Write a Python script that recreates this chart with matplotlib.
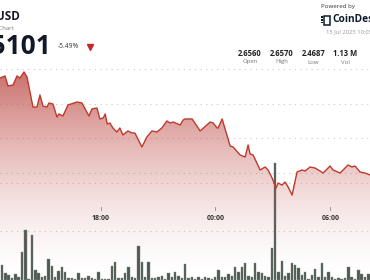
import numpy as np
import matplotlib
matplotlib.use("Agg")
import matplotlib.pyplot as plt
from matplotlib.patches import Rectangle

plt.rcParams['font.family'] = ['Open Sans', 'DejaVu Sans']

W, H = 370, 280

# volume per bar slot (thousands), one value per bar
volume = [15, 7, 5, 2, 6, 3, 29, 52, 1, 46, 10, 7, 3, 4, 22, 14, 3, 9, 13, 8,
          2, 2, 1, 7, 2, 2, 4, 2, 1, 8, 1, 1, 1, 14, 19, 2, 2, 7, 13, 3,
          2, 35, 19, 3, 19, 2, 2, 3, 4, 1, 7, 3, 8, 4, 2, 16, 2, 3, 1, 3,
          1, 3, 2, 1, 3, 10, 3, 3, 6, 4, 13, 8, 13, 18, 4, 3, 18, 8, 7, 4,
          3, 33, 121, 8, 20, 4, 7, 18, 15, 12, 5, 8, 1, 5, 11, 3, 18, 3, 8, 3,
          1, 2, 1, 2, 13, 3, 1, 10, 6, 3, 6]

# price line: slot position and price
price_x = [-0.6, 0.9, 1.8, 3.3, 4.5, 5.4, 6.6, 7.5, 9.3, 10.5, 11.4, 12.3, 13.5,
           14.1, 15.3, 16.5, 17.1, 18.3, 19.8, 22.5, 24.0, 26.1, 27.0, 28.5,
           29.4, 30.4, 31.0, 31.6, 32.4, 33.3, 34.5, 35.4, 36.3, 37.8, 39.0,
           39.9, 42.0, 43.5, 45.0, 46.5, 48.0, 49.5, 50.5, 51.4, 53.5, 54.4,
           55.0, 57.1, 59.5, 62.5, 63.4, 64.6, 64.9, 66.1, 68.5, 69.4, 71.5,
           73.0, 73.9, 74.5, 75.4, 77.5, 79.0, 79.9, 81.1, 82.3, 82.9, 84.1,
           85.0, 85.9, 87.1, 88.6, 90.1, 91.0, 92.5, 94.0, 95.5, 96.4, 98.5,
           99.4, 101.5, 103.0, 103.9, 105.1, 106.0, 107.5, 109.0, 110.5]
price_y = [2.6370, 2.6399, 2.6255, 2.6269, 2.6399, 2.6370, 2.6457, 2.6385,
           2.5952, 2.5952, 2.6125, 2.5967, 2.5952, 2.6010, 2.5996, 2.5808,
           2.5852, 2.5823, 2.5981, 2.6024, 2.6010, 2.5823, 2.5924, 2.5938,
           2.5780, 2.5795, 2.5852, 2.5708, 2.5722, 2.5650, 2.5592, 2.5650,
           2.5549, 2.5607, 2.5578, 2.5578, 2.5376, 2.5520, 2.5607, 2.5592,
           2.5650, 2.5751, 2.5722, 2.5736, 2.5693, 2.5765, 2.5780, 2.5780,
           2.5607, 2.5736, 2.5722, 2.5650, 2.5650, 2.5780, 2.5390, 2.5376,
           2.5261, 2.5232, 2.5405, 2.5275, 2.5261, 2.5045, 2.5088, 2.5045,
           2.4929, 2.4785, 2.4857, 2.4828, 2.4872, 2.4800, 2.4684, 2.5016,
           2.5045, 2.5030, 2.5088, 2.5073, 2.5030, 2.5001, 2.5102, 2.5045,
           2.5001, 2.5073, 2.5117, 2.5088, 2.5102, 2.5016, 2.5001, 2.4973]

price_grid = [2.50, 2.55, 2.60, 2.65]
volume_grid = [50, 100]
tick_pos = [29.7, 64.1, 98.6]
tick_labels = ["18:00", "00:00", "06:00"]

stat_values = ["2.6560", "2.6570", "2.4687", "1.13 M"]
stat_names = ["Open", "High", "Low", "Vol"]


def fx(x):
    return x / W


def fy(y):
    return 1 - y / H


fig = plt.figure(figsize=(W / 100, H / 100), dpi=100)
fig.patch.set_facecolor('white')

top_px = 66
ax = fig.add_axes([0, 0, 1, (H - top_px) / H])
axv = ax.twinx()
ax.set_zorder(axv.get_zorder() + 1)
ax.patch.set_visible(False)

xlim = (-0.6, 110.5)
ax.set_xlim(*xlim)
ax.set_ylim(2.3460, 2.6543)
axv.set_ylim(0, 220.6)

dot = (0, (1, 4))
for g in price_grid:
    ax.axhline(g, color='#c8c8c8', lw=0.8, ls=dot, zorder=0)
for g in volume_grid:
    axv.axhline(g, color='#c8c8c8', lw=0.8, ls=dot, zorder=0)

idx = np.arange(len(volume))
axv.bar(idx, volume, width=0.72, color='#4d5a52', edgecolor='#7d8781',
        linewidth=0.3, zorder=2)

# gradient fill under the price line
px = np.array(price_x)
py = np.array(price_y)
ymin, ymax = ax.get_ylim()
fill = ax.fill_between(px, py, ymin, color='none', lw=0)
grad = np.linspace(0, 1, 256)[:, None]
alpha = 0.85 * (1 - grad) ** 1.6
rgba = np.zeros((256, 1, 4))
rgba[..., 0] = 0.75
rgba[..., 1] = 0.31
rgba[..., 2] = 0.29
rgba[..., 3] = alpha
img = ax.imshow(rgba, aspect='auto', extent=[xlim[0], xlim[1], ymin, ymax],
                origin='upper', zorder=3)
img.set_clip_path(fill.get_paths()[0], transform=ax.transData)
ax.plot(px, py, color='#c0392b', lw=1.0, zorder=4, solid_joinstyle='round')

ax.set_xlim(*xlim)
ax.set_ylim(ymin, ymax)
for a in (ax, axv):
    a.axis('off')

# time labels inside the plot
for p, lab in zip(tick_pos, tick_labels):
    xf = ax.transAxes.inverted().transform(ax.transData.transform((p, 0)))[0]
    fig.add_artist(plt.Line2D([xf, xf], [fy(207), fy(210)], color='#888888', lw=0.6))
    fig.text(xf, fy(219), lab, ha='center', va='center', fontsize=5,
             fontweight='bold', color='#333333')

# header
fig.text(fx(19.5), fy(17), "XRP/USD", ha='right', va='center', fontsize=8.5,
         fontweight='bold', color='#1a1a2e')
fig.text(fx(13.5), fy(28), "Live Chart", ha='right', va='center', fontsize=4.3,
         color='#777777')
fig.text(fx(50.5), fy(47), "2.5101", ha='right', va='center', fontsize=19,
         fontweight='bold', color='#111827')
fig.text(fx(58), fy(47), "-5.49%", ha='left', va='center', fontsize=4.8,
         color='#333333')
fig.add_artist(plt.Line2D([fx(89.5)], [fy(47)], marker='v', markersize=4.5,
                          color='#c62828', lw=0))

fig.text(fx(321), fy(6.5), "Powered by", ha='left', va='center', fontsize=4.4,
         color='#333333')
# small logo mark
fig.add_artist(Rectangle((fx(324), fy(24.5)), fx(6), 8.5 / H, fill=False,
                         edgecolor='#0d1b2a', lw=1.1))
for yy in (17, 19.7, 22.4):
    fig.add_artist(Rectangle((fx(321), fy(yy + 0.9)), fx(1.8), 1.8 / H,
                             color='#0d1b2a', lw=0))
fig.text(fx(332.5), fy(20), "CoinDesk", ha='left', va='center', fontsize=7.3,
         fontweight='bold', color='#0d1b2a')
fig.text(fx(326), fy(31.5), "15 Jul 2025 10:05", ha='left', va='center',
         fontsize=4.2, color='#9a9a9a')

for cx, v, n in zip([250, 282, 313.5, 345], stat_values, stat_names):
    fig.text(fx(cx), fy(53), v, ha='center', va='center', fontsize=5.5,
             fontweight='bold', color='#222222')
    fig.text(fx(cx), fy(62), n, ha='center', va='center', fontsize=4.3,
             color='#777777')

fig.savefig("out.png", dpi=100, facecolor='white')
